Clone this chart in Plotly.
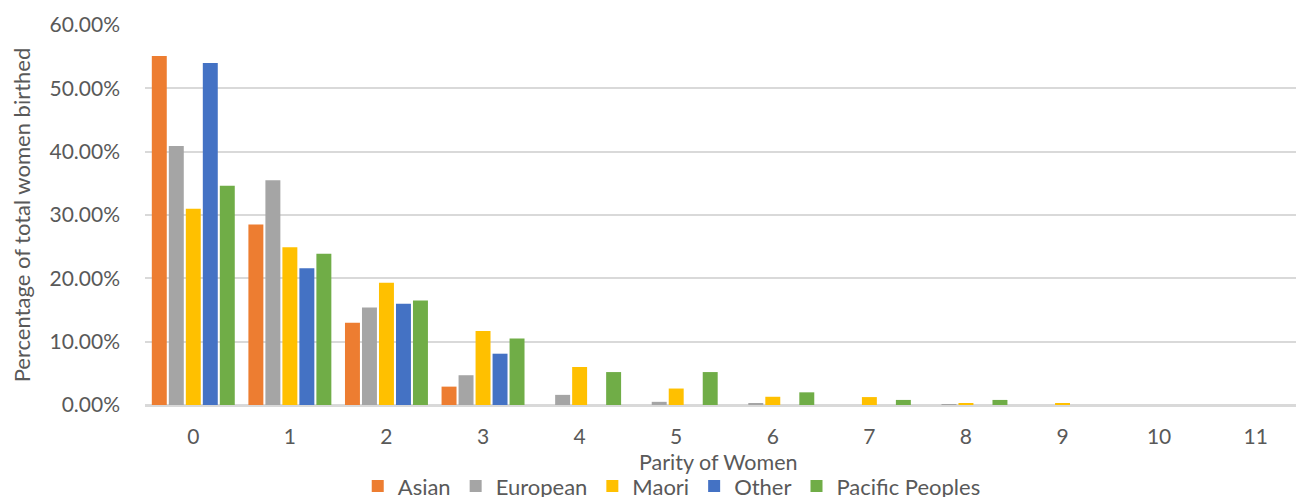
import plotly.graph_objects as go

categories = ["0", "1", "2", "3", "4", "5", "6", "7", "8", "9", "10", "11"]
asian = [55.1, 28.5, 13.0, 2.9, 0.0, 0.0, 0.0, 0.0, 0.0, 0.0, 0.0, 0.0]
european = [40.9, 35.5, 15.4, 4.7, 1.6, 0.5, 0.2, 0.0, 0.05, 0.0, 0.0, 0.0]
maori = [31.0, 24.9, 19.3, 11.7, 6.0, 2.6, 1.3, 1.25, 0.2, 0.2, 0.0, 0.0]
other = [54.0, 21.6, 16.0, 8.1, 0.0, 0.0, 0.0, 0.0, 0.0, 0.0, 0.0, 0.0]
pacific = [34.6, 23.9, 16.5, 10.5, 5.2, 5.2, 2.0, 0.8, 0.8, 0.0, 0.0, 0.0]

series = [
    ("Asian", asian, "#ED7D31"),
    ("European", european, "#A5A5A5"),
    ("Maori", maori, "#FFC000"),
    ("Other", other, "#4472C4"),
    ("Pacific Peoples", pacific, "#70AD47"),
]

FONT = "Lato"
GREY = "#595959"

fig = go.Figure()
for name, vals, col in series:
    fig.add_trace(go.Bar(
        x=categories, y=[v / 100 for v in vals], name=name,
        marker=dict(color=col, line=dict(width=0)),
    ))

fig.update_layout(
    width=1304, height=497,
    paper_bgcolor="white", plot_bgcolor="white",
    barmode="group", bargap=0.12, bargroupgap=0.12,
    margin=dict(l=137, r=8, t=17, b=100, autoexpand=False),
    font=dict(family=FONT, size=21, color=GREY),
    showlegend=True,
    legend=dict(orientation="h", x=0.509, xref="container", xanchor="center",
                y=0.038, yref="container", yanchor="middle",
                font=dict(size=22, color=GREY), itemwidth=30,
                tracegroupgap=0),
    xaxis=dict(
        type="category", showgrid=False, showline=False, zeroline=False,
        ticks="outside", ticklen=13, tickcolor="rgba(0,0,0,0)",
        automargin=False,
        tickfont=dict(size=21, color=GREY),
    ),
    yaxis=dict(
        range=[0, 0.6], dtick=0.1, tickformat=".2%",
        showgrid=True, gridcolor="#D9D9D9", gridwidth=1.5,
        zeroline=True, zerolinecolor="#D9D9D9", zerolinewidth=3,
        showline=False, ticks="", ticklabelstandoff=24, automargin=False,
        tickfont=dict(size=21, color=GREY),
        title=dict(text="Percentage of total women birthed",
                   font=dict(size=22, color=GREY), standoff=16),
    ),
    annotations=[dict(
        text="Parity of Women", xref="paper", yref="paper",
        x=0.495, y=-0.151, xanchor="center", yanchor="middle",
        showarrow=False, font=dict(size=21.5, color=GREY, family=FONT),
    )],
)

fig.write_html("out.html")
